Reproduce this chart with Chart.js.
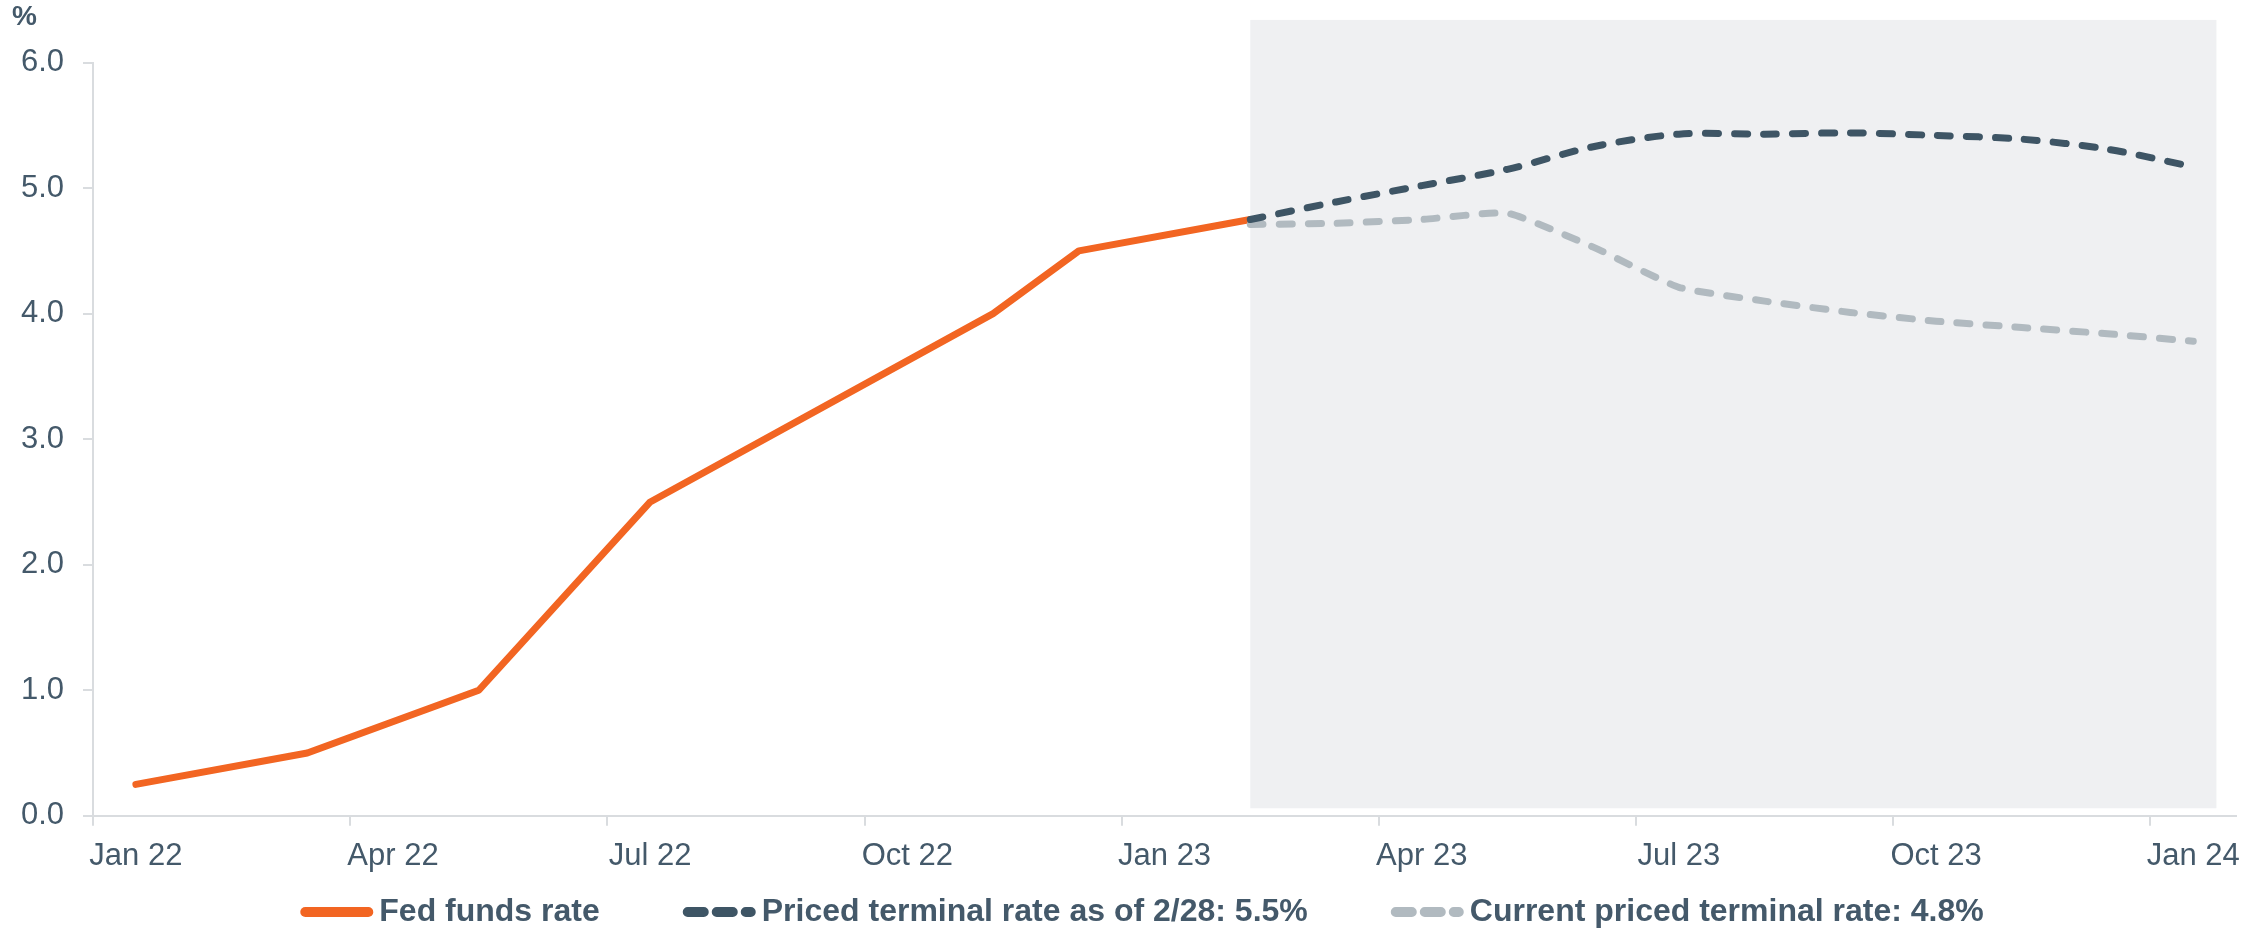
<!DOCTYPE html>
<html>
<head>
<meta charset="utf-8">
<script src="https://cdn.jsdelivr.net/npm/chart.js@4.4.0/dist/chart.umd.min.js"></script>
<style>
  html, body { margin: 0; padding: 0; background: #fff; }
</style>
</head>
<body>
<canvas id="rates" width="2252" height="931"></canvas>
<script>
const months = [
  'Jan 22', 'Feb 22', 'Mar 22', 'Apr 22', 'May 22', 'Jun 22', 'Jul 22', 'Aug 22', 'Sep 22', 'Oct 22', 'Nov 22', 'Dec 22',
  'Jan 23', 'Feb 23', 'Mar 23', 'Apr 23', 'May 23', 'Jun 23', 'Jul 23', 'Aug 23', 'Sep 23', 'Oct 23', 'Nov 23', 'Dec 23',
  'Jan 24'
];

// only the points where the line bends, gaps are bridged
const fedFunds = [0.25, null, 0.5, null, 1.0, null, 2.5, null, null, null, 4.0, 4.5, null, 4.75,
  null, null, null, null, null, null, null, null, null, null, null];

const pricedFeb28 = [null, null, null, null, null, null, null, null, null, null, null, null, null,
  4.75, 4.89, 5.02, 5.15, 5.33, 5.43, 5.43, 5.44, 5.42, 5.39, 5.31, 5.17];

const pricedNow = [null, null, null, null, null, null, null, null, null, null, null, null, null,
  4.71, 4.72, 4.75, 4.80, 4.53, 4.21, 4.10, 4.01, 3.94, 3.89, 3.84, 3.78];

const yTicks = [0, 1, 2, 3, 4, 5, 6];

const textColor = '#44596a';
const axisColor = '#d9dcdf';
const fontFamily = "'Liberation Sans', Arial, sans-serif";

// grey box behind the forecast part
const shadePlugin = {
  id: 'forecastShade',
  beforeDatasetsDraw(chart, args, opts) {
    const { ctx, scales: { x, y } } = chart;
    const left = x.getPixelForValue(opts.from);
    const right = x.getPixelForValue(opts.to);
    const top = y.getPixelForValue(opts.top);
    const bottom = y.getPixelForValue(opts.bottom);
    ctx.save();
    ctx.fillStyle = opts.color;
    ctx.fillRect(left, top, right - left, bottom - top);
    ctx.restore();
  }
};

// legend with a line sample right against the label
const lineLegend = {
  id: 'lineLegend',
  afterDraw(chart, args, opts) {
    const ctx = chart.ctx;
    ctx.save();
    ctx.font = opts.font;
    ctx.textBaseline = 'middle';
    const items = chart.data.datasets;
    let total = 0;
    items.forEach((ds, i) => {
      total += opts.sample + opts.textGap + ctx.measureText(ds.label).width;
      if (i < items.length - 1) total += opts.itemGap;
    });
    let x = opts.center - total / 2;
    const y = chart.height - opts.offsetBottom;
    const half = opts.lineWidth / 2;
    items.forEach(ds => {
      ctx.strokeStyle = ds.borderColor;
      ctx.lineWidth = opts.lineWidth;
      ctx.lineCap = 'round';
      ctx.setLineDash(ds.borderDash ? opts.dash : []);
      ctx.beginPath();
      ctx.moveTo(x + half, y);
      ctx.lineTo(x + opts.sample - half, y);
      ctx.stroke();
      ctx.setLineDash([]);
      x += opts.sample + opts.textGap;
      ctx.fillStyle = opts.color;
      ctx.fillText(ds.label, x, y);
      x += ctx.measureText(ds.label).width + opts.itemGap;
    });
    ctx.restore();
  }
};

new Chart(document.getElementById('rates'), {
  type: 'line',
  data: {
    labels: months,
    datasets: [
      {
        label: 'Fed funds rate',
        data: fedFunds,
        borderColor: '#f26522',
        borderWidth: 7,
        borderCapStyle: 'round',
        borderJoinStyle: 'round',
        pointRadius: 0,
        spanGaps: true,
        tension: 0,
        order: 3
      },
      {
        label: 'Priced terminal rate as of 2/28: 5.5%',
        data: pricedFeb28,
        borderColor: '#3e5565',
        borderWidth: 7,
        borderDash: [13, 16],
        borderCapStyle: 'round',
        pointRadius: 0,
        tension: 0.3,
        order: 1
      },
      {
        label: 'Current priced terminal rate: 4.8%',
        data: pricedNow,
        borderColor: '#b1bac0',
        borderWidth: 7,
        borderDash: [13, 16],
        borderCapStyle: 'round',
        pointRadius: 0,
        tension: 0.15,
        order: 2
      }
    ]
  },
  options: {
    responsive: false,
    animation: false,
    devicePixelRatio: 1,
    layout: { padding: { left: 12, right: 9, top: 0, bottom: 44 } },
    font: { family: fontFamily },
    scales: {
      x: {
        offset: true,
        grid: {
          offset: true,
          drawOnChartArea: false,
          tickLength: 10,
          lineWidth: 2,
          color: c => (c.index % 3 === 0 ? axisColor : 'rgba(0,0,0,0)'),
          tickColor: c => (c.index % 3 === 0 ? axisColor : 'rgba(0,0,0,0)')
        },
        border: { color: axisColor, width: 2 },
        ticks: {
          autoSkip: false,
          maxRotation: 0,
          padding: 12,
          color: textColor,
          font: { size: 31, family: fontFamily },
          callback(v, i) { return i % 3 === 0 ? this.getLabelForValue(v) : ''; }
        }
      },
      y: {
        min: yTicks[0],
        max: yTicks[yTicks.length - 1],
        afterFit(scale) { scale.width = 81; },
        grid: { drawOnChartArea: false, tickLength: 10, lineWidth: 2, color: axisColor },
        border: { color: axisColor, width: 2 },
        ticks: {
          stepSize: 1,
          padding: 19,
          color: textColor,
          font: { size: 31, family: fontFamily },
          callback: v => v.toFixed(1)
        }
      }
    },
    plugins: {
      legend: { display: false },
      tooltip: { enabled: false },
      title: {
        display: true,
        text: '%',
        align: 'start',
        color: textColor,
        font: { size: 28, weight: 'bold', family: fontFamily },
        padding: { top: 0, bottom: 29 }
      },
      forecastShade: { from: 13, to: 24.27, top: 6.34, bottom: 0.06, color: '#eff0f2' },
      lineLegend: {
        font: "bold 32px 'Liberation Sans', Arial, sans-serif",
        color: textColor,
        sample: 73,
        lineWidth: 10,
        dash: [16, 13],
        textGap: 6,
        itemGap: 83,
        center: 1142,
        offsetBottom: 19
      }
    }
  },
  plugins: [shadePlugin, lineLegend]
});
</script>
</body>
</html>
